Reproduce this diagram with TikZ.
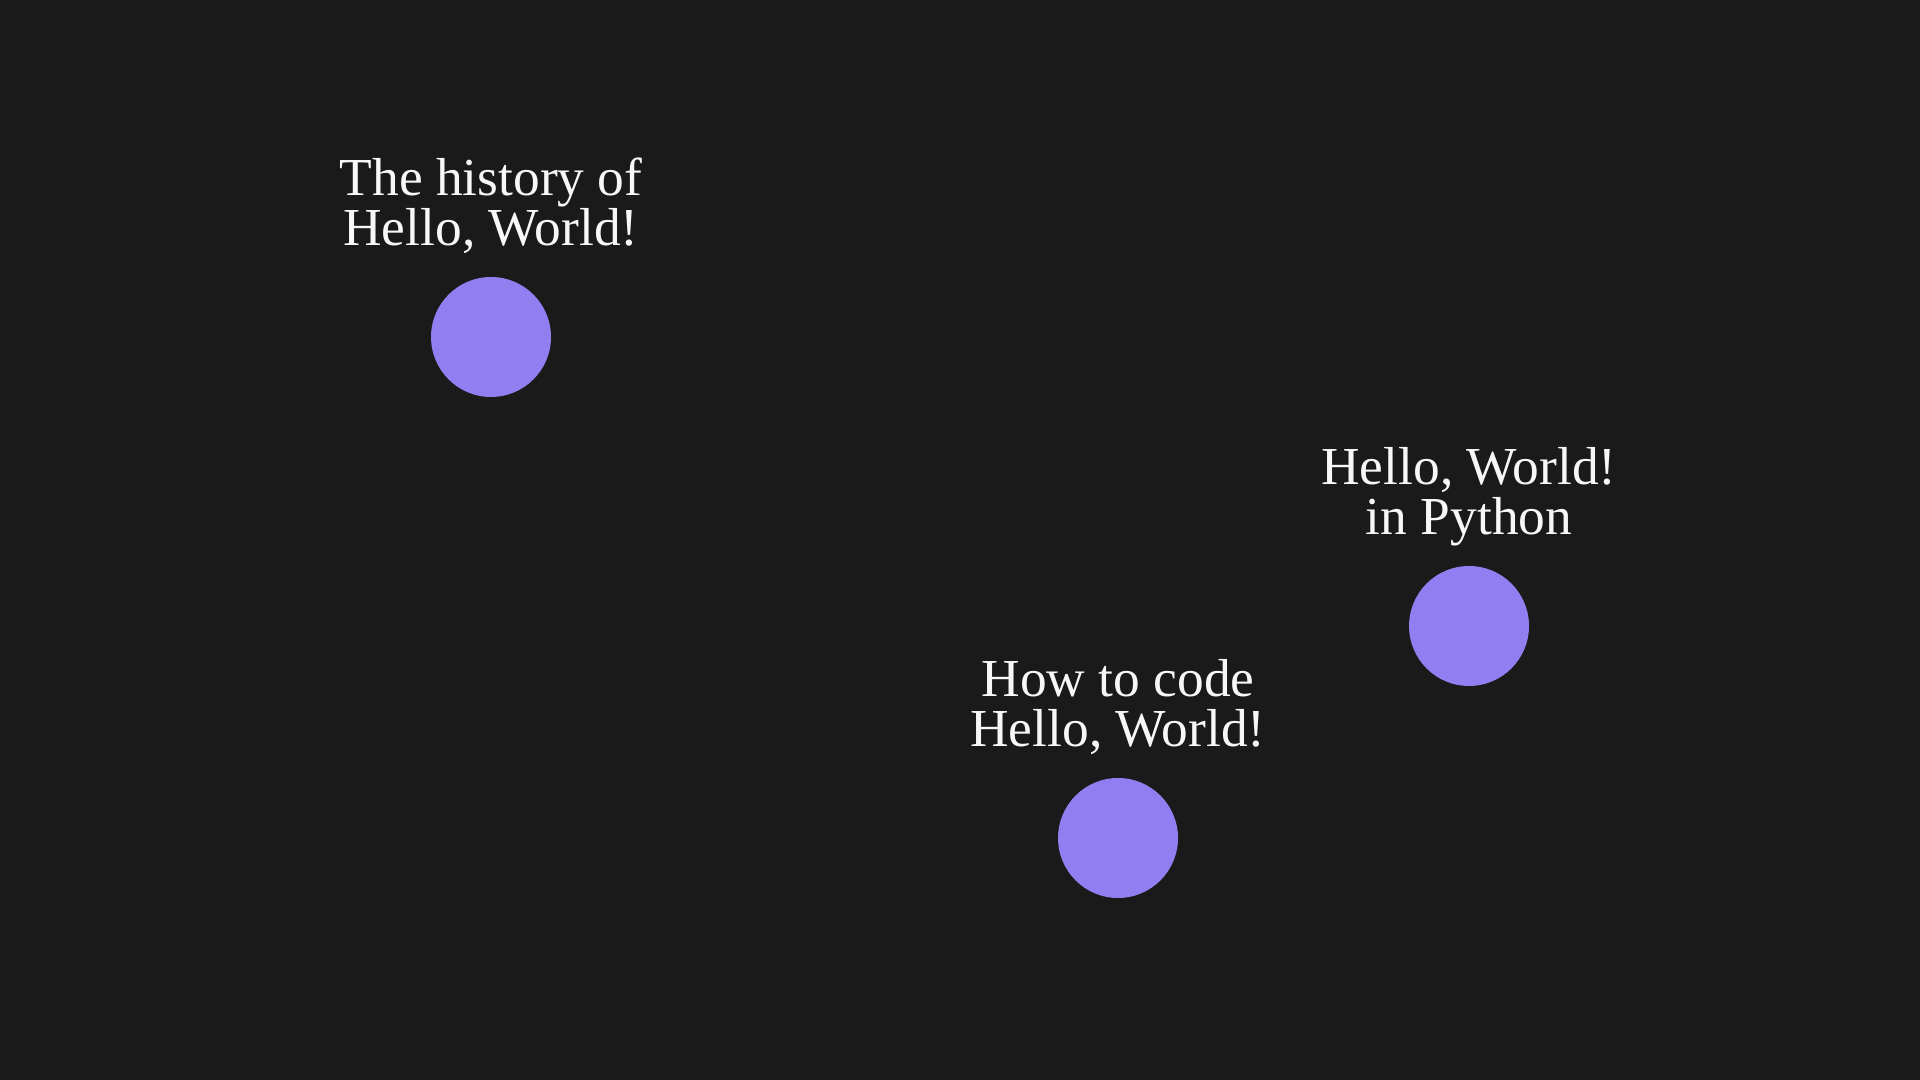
\documentclass[tikz,border=0pt]{standalone}
\usepackage{fontspec}
\setmainfont{Liberation Serif}
\usetikzlibrary{positioning}

\definecolor{bgdark}{HTML}{1A1A1A}
\definecolor{dotviolet}{HTML}{917FF1}
\definecolor{textwhite}{HTML}{F7F7F7}

\begin{document}
\begin{tikzpicture}[
  dot/.style={circle,fill=dotviolet,minimum size=1.2cm,inner sep=0pt},
  topic/.style={text=textwhite,font=\fontsize{15.2}{14.2}\selectfont,align=center,inner sep=0pt,text depth=0pt}
]
\fill[bgdark] (0,0) rectangle (19.2,10.8);
\useasboundingbox (0,0) rectangle (19.2,10.8);

\node[dot] (history) at (4.91,7.43) {};
\node[topic,above=3.05mm of history] (historytext) {The history of\\Hello, World!};

\node[dot] (python) at (14.69,4.54) {};
\node[topic,above=3.05mm of python] (pythontext) {Hello, World!\\in Python};

\node[dot] (howto) at (11.18,2.42) {};
\node[topic,above=3.05mm of howto] (howtotext) {How to code\\Hello, World!};
\end{tikzpicture}
\end{document}
